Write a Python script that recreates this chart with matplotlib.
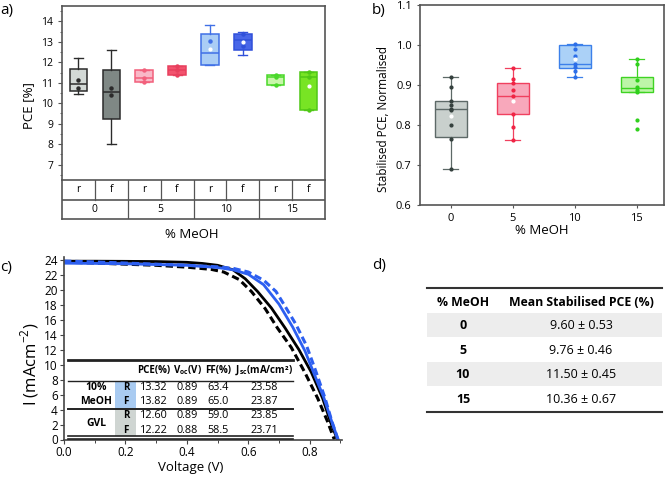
import numpy as np
import matplotlib
matplotlib.use("Agg")
import matplotlib.pyplot as plt
from matplotlib.patches import Rectangle
from matplotlib.ticker import MultipleLocator

plt.rcParams['font.family'] = ['Open Sans', 'DejaVu Sans']
plt.rcParams['mathtext.fontset'] = 'custom'
plt.rcParams['mathtext.rm'] = 'Open Sans'
plt.rcParams['mathtext.bf'] = 'Open Sans:bold'

## a) PCE of reverse / forward scans for each % MeOH
a_groups = ['0', '5', '10', '15']
a_scans = ['r', 'f', 'r', 'f', 'r', 'f', 'r', 'f']
a_whislo = [10.44, 8.00, 11.03, 11.37, 11.87, 12.36, 10.88, 9.65]
a_q1 = [10.60, 9.23, 11.03, 11.37, 11.87, 12.59, 10.88, 9.65]
a_med = [10.93, 10.56, 11.22, 11.61, 12.47, 13.07, 11.27, 11.30]
a_q3 = [11.66, 11.63, 11.63, 11.81, 13.40, 13.37, 11.40, 11.53]
a_whishi = [12.20, 12.60, 11.63, 11.81, 13.82, 13.46, 11.40, 11.53]
a_points = [[11.12, 10.74], [10.72, 10.39], [11.63, 11.22, 11.03], [11.81, 11.61, 11.37],
            [13.03], [13.37, 12.81], [11.40, 11.27, 10.88], [11.53, 11.30, 9.65]]
a_means = [np.nan, np.nan, np.nan, np.nan, 12.64, 12.98, np.nan, 10.85]
a_face = ['#d3d9d6', '#7f8885', '#f9b8c7', '#f2536e', '#aacdf5', '#4866e8', '#c8f6aa', '#78e424']
a_edge = ['#2b2b2b', '#2b2b2b', '#f2607c', '#e8405e', '#4070e6', '#3050da', '#4ad82a', '#50c816']

## b) stabilised PCE, normalised
b_labels = ['0', '5', '10', '15']
b_whislo = [0.690, 0.762, 0.921, 0.882]
b_q1 = [0.771, 0.828, 0.942, 0.882]
b_med = [0.840, 0.872, 0.952, 0.892]
b_q3 = [0.859, 0.905, 1.000, 0.920]
b_whishi = [0.919, 0.942, 1.002, 0.966]
b_points = [[0.919, 0.894, 0.859, 0.850, 0.841, 0.838, 0.800, 0.764, 0.690],
            [0.942, 0.915, 0.905, 0.888, 0.872, 0.828, 0.796, 0.762],
            [1.002, 0.991, 0.973, 0.952, 0.946, 0.936, 0.921],
            [0.966, 0.952, 0.913, 0.896, 0.888, 0.882, 0.813, 0.789]]
b_means = [0.823, 0.860, 0.965, np.nan]
b_face = ['#c9d0cd', '#f8a8bb', '#abd1f7', '#bdf5a8']
b_edge = ['#5d6967', '#f0405f', '#3c80ea', '#3fd323']
b_dot = ['#34403d', '#f02444', '#2c6ee8', '#2fd01c']

## c) J-V curves (read off the plot)
v_meoh_r = [0, 0.1, 0.2, 0.3, 0.4, 0.5, 0.55, 0.6, 0.65, 0.7, 0.745, 0.785, 0.815, 0.845, 0.87, 0.892]
i_meoh_r = [23.58, 23.55, 23.5, 23.4, 23.3, 23.0, 22.7, 22.1, 20.7, 18.1, 15.0, 11.8, 8.7, 5.7, 2.6, 0]
v_meoh_f = [0, 0.1, 0.2, 0.3, 0.4, 0.5, 0.55, 0.6, 0.65, 0.69, 0.72, 0.755, 0.79, 0.82, 0.85, 0.873, 0.892]
i_meoh_f = [23.87, 23.75, 23.6, 23.45, 23.3, 23.1, 22.9, 22.4, 21.3, 19.8, 17.8, 15.4, 12.5, 9.1, 5.5, 2.3, 0]
v_gvl_r = [0, 0.1, 0.2, 0.3, 0.4, 0.45, 0.5, 0.55, 0.59, 0.63, 0.675, 0.72, 0.765, 0.805, 0.842, 0.867, 0.89]
i_gvl_r = [23.85, 23.85, 23.83, 23.8, 23.7, 23.55, 23.3, 22.7, 21.5, 19.8, 17.6, 14.9, 12.0, 9.0, 5.5, 2.4, 0]
v_gvl_f = [0, 0.1, 0.2, 0.3, 0.4, 0.48, 0.52, 0.57, 0.61, 0.655, 0.695, 0.74, 0.783, 0.826, 0.858, 0.88]
i_gvl_f = [23.71, 23.6, 23.45, 23.3, 23.05, 22.75, 22.4, 21.4, 19.8, 17.5, 14.9, 12.3, 9.05, 5.5, 2.4, 0]

c_scan = ['R', 'F', 'R', 'F']
c_pce = [13.32, 13.82, 12.60, 12.22]
c_voc = [0.89, 0.89, 0.89, 0.88]
c_ff = [63.4, 65.0, 59.0, 58.5]
c_jsc = [23.58, 23.87, 23.85, 23.71]

## d) mean stabilised PCE
d_meoh = ['0', '5', '10', '15']
d_mean = [9.60, 9.76, 11.50, 10.36]
d_err = [0.53, 0.46, 0.45, 0.67]

W, H = 669, 478
fig = plt.figure(figsize=(W / 100, H / 100), dpi=100)


def fx(x0, y0, x1, y1):
    return [x0 / W, 1 - y1 / H, (x1 - x0) / W, (y1 - y0) / H]


def style_boxes(res, faces, edges, lw):
    for i, box in enumerate(res['boxes']):
        box.set_facecolor(faces[i])
        box.set_edgecolor(edges[i])
        box.set_linewidth(lw)
        res['medians'][i].set_color(edges[i])
        res['medians'][i].set_linewidth(lw)
        for k in (2 * i, 2 * i + 1):
            res['whiskers'][k].set_color(edges[i])
            res['caps'][k].set_color(edges[i])
            res['whiskers'][k].set_linewidth(lw * 0.9)
            res['caps'][k].set_linewidth(lw * 0.9)


# ---- a)
ax_a = fig.add_axes(fx(62, 6, 325, 180))
pos_a = np.arange(len(a_scans)) + 0.5
stats_a = [dict(med=a_med[i], q1=a_q1[i], q3=a_q3[i], whislo=a_whislo[i], whishi=a_whishi[i], fliers=[])
           for i in range(len(a_scans))]
res = ax_a.bxp(stats_a, positions=pos_a, widths=0.53, patch_artist=True, showfliers=False,
               capwidths=0.27, manage_ticks=False)
style_boxes(res, a_face, a_edge, 1.1)
for i in range(len(a_scans)):
    ax_a.plot([pos_a[i]] * len(a_points[i]), a_points[i], 'o', ms=2.2, color=a_edge[i], zorder=5)
    ax_a.plot(pos_a[i], a_means[i], 'o', ms=2, color='white', zorder=6)
ax_a.set_xlim(0, 8)
ax_a.set_ylim(6.25, 14.75)
ax_a.set_xticks([])
ax_a.yaxis.set_minor_locator(MultipleLocator(0.5))
ax_a.set_yticks(range(7, 15))
ax_a.tick_params(axis='y', labelsize=7.5, length=3, width=0.8, color='#555')
ax_a.tick_params(axis='y', which='minor', length=1.5, width=0.6, color='#555')
for s in ax_a.spines.values():
    s.set_color('#555')
    s.set_linewidth(1.2)
ax_a.set_ylabel('PCE [%]', fontsize=9.5)
ax_a.yaxis.set_label_coords(-0.103, 0.43)

tab_a = fig.add_axes(fx(62, 180, 325, 219))
tab_a.set_xlim(0, 8)
tab_a.set_ylim(0, 2)
tab_a.axis('off')
lc = '#555'
tab_a.plot([0, 8], [1, 1], color=lc, lw=1.2)
tab_a.plot([0, 8], [0, 0], color=lc, lw=1.2, clip_on=False)
tab_a.plot([0, 0], [0, 2], color=lc, lw=1.2, clip_on=False)
tab_a.plot([8, 8], [0, 2], color=lc, lw=1.2, clip_on=False)
for k in range(1, 8):
    tab_a.plot([k, k], [1 if k % 2 else 0, 2], color=lc, lw=0.9)
for i, s in enumerate(a_scans):
    tab_a.text(pos_a[i], 1.5, s, ha='center', va='center', fontsize=7.5)
for j, g in enumerate(a_groups):
    tab_a.text(2 * j + 1, 0.5, g, ha='center', va='center', fontsize=7.5)
fig.text(192 / W, 1 - 234 / H, '% MeOH', ha='center', va='center', fontsize=9.5)

# ---- b)
ax_b = fig.add_axes(fx(420, 5, 664, 205))
pos_b = np.arange(len(b_labels))
stats_b = [dict(med=b_med[i], q1=b_q1[i], q3=b_q3[i], whislo=b_whislo[i], whishi=b_whishi[i], fliers=[])
           for i in range(len(b_labels))]
res = ax_b.bxp(stats_b, positions=pos_b, widths=0.51, patch_artist=True, showfliers=False,
               capwidths=0.25, manage_ticks=False)
style_boxes(res, b_face, b_edge, 1.0)
for i in range(len(b_labels)):
    ax_b.plot([pos_b[i]] * len(b_points[i]), b_points[i], 'o', ms=2, color=b_dot[i], zorder=5)
    ax_b.plot(pos_b[i], b_means[i], 'o', ms=2, color='white', zorder=6)
ax_b.set_xlim(-0.495, 3.44)
ax_b.set_ylim(0.6, 1.1)
ax_b.set_xticks(pos_b)
ax_b.set_xticklabels(b_labels)
ax_b.set_yticks(np.arange(0.6, 1.11, 0.1))
ax_b.yaxis.set_major_formatter(plt.FormatStrFormatter('%.1f'))
ax_b.tick_params(labelsize=8, length=2.5, width=0.8, color='#555')
for s in ax_b.spines.values():
    s.set_color('#555')
    s.set_linewidth(1.2)
ax_b.set_ylabel('Stabilised PCE, Normalised', fontsize=8.5)
ax_b.yaxis.set_label_coords(-0.123, 0.43)
ax_b.set_xlabel('% MeOH', fontsize=9.5, labelpad=0)

# ---- c)
ax_c = fig.add_axes(fx(64, 256.7, 342, 439.5))
blue = '#2d5ff0'
ax_c.plot(v_gvl_r, i_gvl_r, color='black', lw=2)
ax_c.plot(v_gvl_f, i_gvl_f, color='black', lw=2.2, ls=(0, (2.4, 1.3)))
ax_c.plot(v_meoh_r, i_meoh_r, color=blue, lw=2)
ax_c.plot(v_meoh_f, i_meoh_f, color=blue, lw=2.2, ls=(0, (2.4, 1.3)))
ax_c.set_xlim(0, 0.905)
ax_c.set_ylim(0, 24.45)
ax_c.set_xticks([0, 0.2, 0.4, 0.6, 0.8])
ax_c.xaxis.set_major_formatter(plt.FormatStrFormatter('%.1f'))
ax_c.xaxis.set_minor_locator(MultipleLocator(0.1))
ax_c.set_yticks(range(0, 25, 2))
ax_c.spines['top'].set_visible(False)
ax_c.spines['right'].set_visible(False)
for s in ('left', 'bottom'):
    ax_c.spines[s].set_color('#444')
    ax_c.spines[s].set_linewidth(1.2)
ax_c.tick_params(labelsize=8.5, length=3, width=0.8, color='#444', pad=1.5)
ax_c.tick_params(which='minor', length=2, width=0.7, color='#444')
ax_c.set_xlabel('Voltage (V)', fontsize=9.5)
ax_c.xaxis.set_label_coords(0.455, -0.115)
ax_c.set_ylabel('I (mAcm$^{-2}$)', fontsize=12)
ax_c.yaxis.set_label_coords(-0.082, 0.41)

# ---- overlay in pixel coordinates: panel labels and tables
ov = fig.add_axes([0, 0, 1, 1])
ov.set_xlim(0, W)
ov.set_ylim(H, 0)
ov.axis('off')
for lab, x, y in [('a)', 0, 10), ('b)', 372, 10), ('c)', 0, 267), ('d)', 372, 265)]:
    ov.text(x, y, lab, fontsize=11, va='center', ha='left')

# c) table
tx0, tx1 = 68, 293
ov.plot([tx0, tx1], [360, 360], color='#222', lw=2)
ov.plot([tx0, tx1], [380.5, 380.5], color='#222', lw=1)
ov.plot([tx0, tx1], [409, 409], color='#222', lw=1.4)
ov.plot([tx0, tx1], [436, 436], color='#222', lw=1.2)
ov.plot([tx0, tx1], [438.7, 438.7], color='#222', lw=1.2)
ov.add_patch(Rectangle((115, 381.3), 21, 27, color='#a9cbf1', lw=0))
ov.add_patch(Rectangle((115, 409.8), 21, 26, color='#cfd5d2', lw=0))
cols = [154, 187, 218, 264]
heads = ['PCE(%)', 'V$_{\\mathbf{oc}}$(V)', 'FF(%)', 'J$_{\\mathbf{sc}}$(mA/cm²)']
for x, h in zip(cols, heads):
    ov.text(x, 370.5, h, ha='center', va='center', fontsize=7, fontweight='bold')
row_y = [387.5, 401.5, 416, 430.5]
for k in range(4):
    ov.text(126, row_y[k], c_scan[k], ha='center', va='center', fontsize=7, fontweight='bold')
    vals = ['%.2f' % c_pce[k], '%.2f' % c_voc[k], '%.1f' % c_ff[k], '%.2f' % c_jsc[k]]
    for x, v in zip(cols, vals):
        ov.text(x, row_y[k], v, ha='center', va='center', fontsize=7.8)
ov.text(96, 387.5, '10%', ha='center', va='center', fontsize=7.5, fontweight='bold')
ov.text(96, 401.5, 'MeOH', ha='center', va='center', fontsize=7.5, fontweight='bold')
ov.text(96, 423, 'GVL', ha='center', va='center', fontsize=7.5, fontweight='bold')

# d) table
dx0, dx1 = 427, 662
ov.plot([dx0, dx1], [288, 288], color='#333', lw=1.5)
ov.text(463, 302, '% MeOH', ha='center', va='center', fontsize=8.8, fontweight='bold')
ov.text(581, 302, 'Mean Stabilised PCE (%)', ha='center', va='center', fontsize=8.8, fontweight='bold')
rh = 24.5
for k in range(len(d_meoh)):
    top = 312.5 + k * rh
    if k % 2 == 0:
        ov.add_patch(Rectangle((dx0, top), dx1 - dx0, rh, color='#ededed', lw=0))
    ov.text(463, top + rh / 2 + 1, d_meoh[k], ha='center', va='center', fontsize=9, fontweight='bold')
    ov.text(581, top + rh / 2 + 1, '%.2f ± %.2f' % (d_mean[k], d_err[k]), ha='center', va='center', fontsize=9)
ov.plot([dx0, dx1], [411.5, 411.5], color='#333', lw=1.5)

fig.savefig('out.png', dpi=100)
